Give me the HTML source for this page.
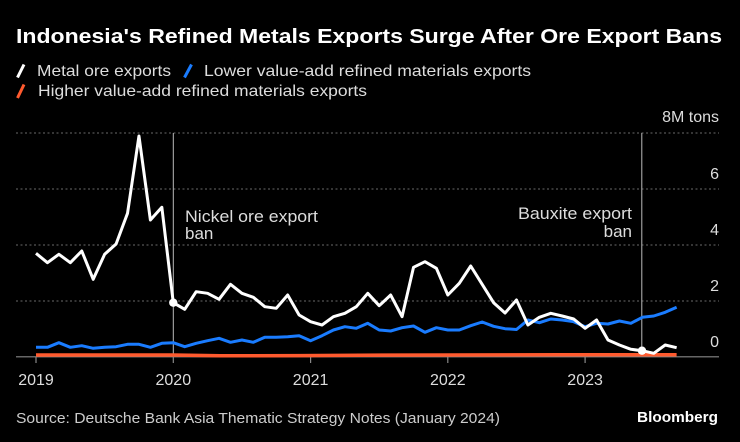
<!DOCTYPE html>
<html><head><meta charset="utf-8"><style>
html,body{margin:0;padding:0;background:#000;width:740px;height:442px;overflow:hidden}
svg{display:block}
text{font-family:"Liberation Sans",sans-serif}
</style></head><body>
<svg width="740" height="442" viewBox="0 0 740 442" xmlns="http://www.w3.org/2000/svg">
<rect width="740" height="442" fill="#000"/>
<text x="16" y="43" font-size="20" font-weight="bold" fill="#fff" textLength="706" lengthAdjust="spacingAndGlyphs">Indonesia's Refined Metals Exports Surge After Ore Export Bans</text>
<line x1="17.5" y1="77.5" x2="24" y2="64.5" stroke="#fff" stroke-width="3"/>
<text x="37" y="76" font-size="16" fill="#ddd" textLength="134" lengthAdjust="spacingAndGlyphs">Metal ore exports</text>
<line x1="184.5" y1="77.5" x2="191.5" y2="64.5" stroke="#1a7cff" stroke-width="3"/>
<text x="204" y="76" font-size="16" fill="#ddd" textLength="327" lengthAdjust="spacingAndGlyphs">Lower value-add refined materials exports</text>
<line x1="17.5" y1="98" x2="24" y2="84.5" stroke="#ff5a2e" stroke-width="3"/>
<text x="38" y="96" font-size="16" fill="#ddd" textLength="329" lengthAdjust="spacingAndGlyphs">Higher value-add refined materials exports</text>
<text x="719" y="122" font-size="16" fill="#ddd" text-anchor="end">8M tons</text>
<g stroke="#555" stroke-width="1.3" stroke-dasharray="2 2.5">
<line x1="16" y1="133" x2="719" y2="133"/>
<line x1="16" y1="189" x2="719" y2="189"/>
<line x1="16" y1="245" x2="719" y2="245"/>
<line x1="16" y1="301" x2="719" y2="301"/>
</g>
<g font-size="16" fill="#ddd" text-anchor="end">
<text x="719" y="179">6</text>
<text x="719" y="235">4</text>
<text x="719" y="291">2</text>
<text x="719" y="347">0</text>
</g>
<line x1="173.3" y1="133" x2="173.3" y2="357" stroke="#bbb" stroke-width="1"/>
<line x1="641.8" y1="133" x2="641.8" y2="357" stroke="#bbb" stroke-width="1"/>
<text x="185" y="222" font-size="17" fill="#ddd" textLength="133" lengthAdjust="spacingAndGlyphs">Nickel ore export</text>
<text x="185" y="239" font-size="17" fill="#ddd">ban</text>
<text x="632" y="219" font-size="17" fill="#ddd" text-anchor="end" textLength="114" lengthAdjust="spacingAndGlyphs">Bauxite export</text>
<text x="632" y="237" font-size="17" fill="#ddd" text-anchor="end">ban</text>
<line x1="16" y1="356.8" x2="719" y2="356.8" stroke="#888" stroke-width="1.2"/>
<g stroke="#888" stroke-width="1.2">
<line x1="36" y1="357" x2="36" y2="363"/>
<line x1="173.3" y1="357" x2="173.3" y2="363"/>
<line x1="310.6" y1="357" x2="310.6" y2="363"/>
<line x1="447.8" y1="357" x2="447.8" y2="363"/>
<line x1="585.1" y1="357" x2="585.1" y2="363"/>
</g>
<g font-size="16" fill="#ddd" text-anchor="middle">
<text x="36" y="385">2019</text>
<text x="173.3" y="385">2020</text>
<text x="310.6" y="385">2021</text>
<text x="447.8" y="385">2022</text>
<text x="585.1" y="385">2023</text>
</g>
<polyline fill="none" stroke="#ff5a2e" stroke-width="3.5" stroke-linejoin="round" points="36,355 173,355 220,355.8 300,355.6 360,355.2 450,355 560,354.8 676.6,354.8"/>
<polyline fill="none" stroke="#1a7cff" stroke-width="3" stroke-linejoin="round" points="36,347.3 47.44,347.3 58.88,342.7 70.32,347.3 81.76,345.7 93.2,348.3 104.64,347.3 116.08,346.7 127.52,344.3 138.96,344.3 150.4,347.3 161.84,343.3 173.28,342.7 184.72,346.7 196.16,343.3 207.6,340.7 219.04,338.3 230.48,342.3 241.92,340 253.36,342.3 264.8,337.2 276.24,337.2 287.68,336.7 299.12,335.7 310.56,340.7 322,335.7 333.44,330 344.88,326.7 356.32,328.3 367.76,323.3 379.2,330 390.64,331 402.08,327.7 413.52,326 424.96,332.3 436.4,327.7 447.84,330 459.28,330 470.72,325.7 482.16,322 493.6,326.3 505.04,328.7 516.48,329.5 527.92,320 539.36,322.7 550.8,319 562.24,320 573.68,321.7 585.12,326.7 596.56,323.3 608,324 619.44,321 630.88,323.3 642.32,317.3 653.76,316 665.2,312.3 676.64,307.3"/>
<polyline fill="none" stroke="#fff" stroke-width="3" stroke-linejoin="round" points="36,253.3 47.44,262.7 58.88,254.3 70.32,262.7 81.76,251 93.2,279.3 104.64,254.3 116.08,244 127.52,213.3 138.96,136 150.4,220 161.84,207.3 173.28,302.7 184.72,309.3 196.16,291.7 207.6,293.3 219.04,299.3 230.48,284.3 241.92,293.3 253.36,297.3 264.8,306.7 276.24,308.3 287.68,295 299.12,315 310.56,321.7 322,325 333.44,316.7 344.88,313.3 356.32,306.7 367.76,293.3 379.2,305.7 390.64,295 402.08,316.7 413.52,267.3 424.96,261.7 436.4,268.3 447.84,295 459.28,283.3 470.72,266 482.16,284.3 493.6,302.7 505.04,313 516.48,300 527.92,325 539.36,317.3 550.8,313.3 562.24,316 573.68,319 585.12,328.3 596.56,320 608,340 619.44,345 630.88,349.3 642.32,350.7 653.76,353.3 665.2,345 676.64,347.7"/>
<circle cx="173.3" cy="302.7" r="4.2" fill="#fff"/>
<circle cx="642" cy="350.7" r="4.2" fill="#fff"/>
<text x="16" y="423" font-size="15" fill="#ccc" textLength="484" lengthAdjust="spacingAndGlyphs">Source: Deutsche Bank Asia Thematic Strategy Notes (January 2024)</text>
<text x="718" y="422" font-size="15" font-weight="bold" fill="#fff" text-anchor="end" textLength="81" lengthAdjust="spacingAndGlyphs">Bloomberg</text>
</svg>
</body></html>
